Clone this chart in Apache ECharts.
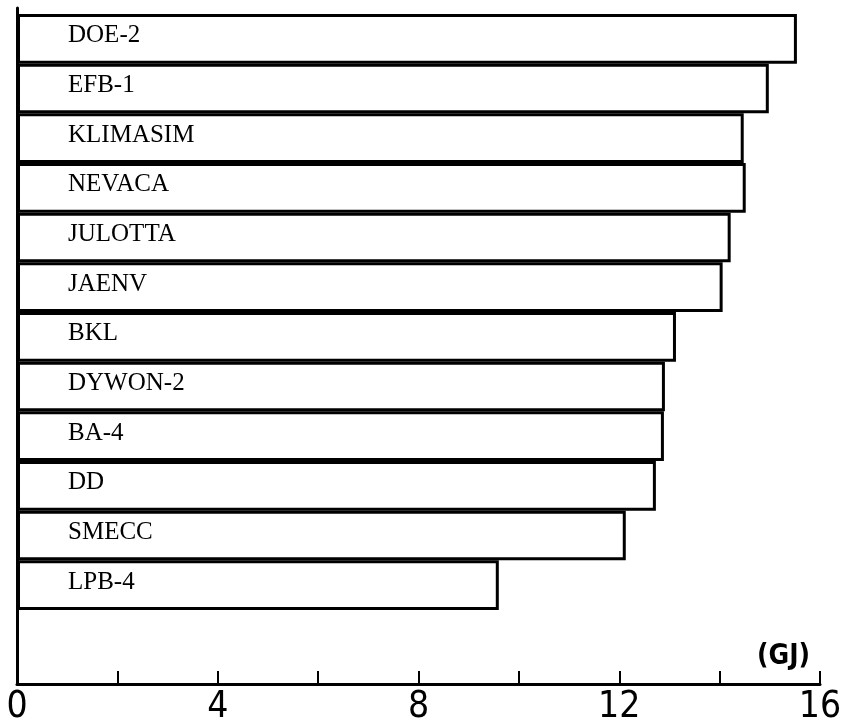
<!DOCTYPE html>
<html>
<head>
<meta charset="utf-8">
<script src="https://cdn.jsdelivr.net/npm/echarts@6/dist/echarts.min.js"></script>
<style>
  html, body { margin: 0; padding: 0; background: #fff; }
  #chart { width: 851px; height: 728px; }
</style>
</head>
<body>
<div id="chart"></div>
<script>
// ------------------------------------------------------- //
// Data
// ------------------------------------------------------ //
var programs = ['DOE-2', 'EFB-1', 'KLIMASIM', 'NEVACA', 'JULOTTA', 'JAENV', 'BKL', 'DYWON-2', 'BA-4', 'DD', 'SMECC', 'LPB-4'];
var energyGJ = [15.54, 14.98, 14.48, 14.52, 14.22, 14.06, 13.13, 12.91, 12.89, 12.73, 12.13, 9.60];
var tickLabels = ['0', '4', '8', '12', '16'];

var chart = echarts.init(document.getElementById('chart'));

var option = {
    backgroundColor: '#fff',
    animation: false,
    title: {
        text: '(GJ)',
        left: 752,
        top: 638,
        textStyle: {fontFamily: 'Liberation Sans Narrow, DejaVu Sans Condensed, sans-serif', fontSize: 28, fontWeight: 'bold', color: '#000'}
    },
    grid: [
        // bars
        {left: 17, right: 31, top: 14, bottom: 118},
        // axis frame
        {left: 17, right: 31, top: 8, bottom: 44}
    ],
    xAxis: [
        {gridIndex: 0, type: 'value', min: 0, max: 16, show: false},
        {
            gridIndex: 1, type: 'value', min: 0, max: 16, interval: 2,
            axisLine: {show: true, lineStyle: {color: '#000', width: 3}},
            axisTick: {show: true, inside: true, length: 13, lineStyle: {color: '#000', width: 2}},
            splitLine: {show: false},
            axisLabel: {
                margin: 5,
                color: '#000',
                fontSize: 37,
                fontFamily: 'Liberation Sans Narrow, DejaVu Sans Condensed, sans-serif',
                formatter: function (v) {
                    return tickLabels.indexOf(String(v)) >= 0 ? String(v) : '';
                }
            }
        }
    ],
    yAxis: [
        {gridIndex: 0, type: 'category', inverse: true, data: programs, show: false},
        {
            gridIndex: 1, type: 'value', min: 0, max: 1,
            axisLine: {show: true, lineStyle: {color: '#000', width: 3}},
            axisTick: {show: false},
            axisLabel: {show: false},
            splitLine: {show: false}
        }
    ],
    series: [{
        type: 'bar',
        xAxisIndex: 0,
        yAxisIndex: 0,
        barCategoryGap: 0,
        data: energyGJ,
        itemStyle: {color: '#fff', borderColor: '#000', borderWidth: 3},
        label: {
            show: true,
            position: 'insideLeft',
            distance: 51,
            offset: [0, -3],
            formatter: '{b}',
            color: '#000',
            fontSize: 25,
            fontFamily: 'Liberation Serif, DejaVu Serif, serif'
        }
    }]
};
chart.setOption(option);
</script>
</body>
</html>
